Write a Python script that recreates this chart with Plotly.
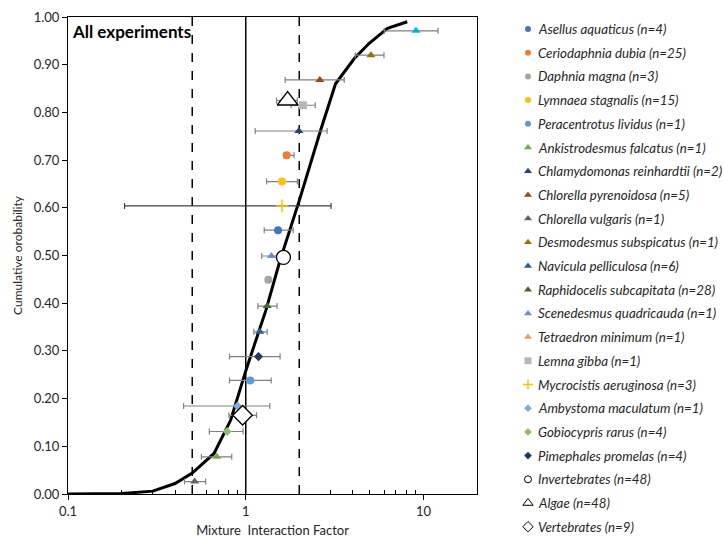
import plotly.graph_objects as go

# ---------------- data ----------------
species = [
    "Asellus aquaticus (n=4)", "Ceriodaphnia dubia (n=25)", "Daphnia magna (n=3)",
    "Lymnaea stagnalis (n=15)", "Peracentrotus lividus (n=1)", "Ankistrodesmus falcatus (n=1)",
    "Chlamydomonas reinhardtii (n=2)", "Chlorella pyrenoidosa (n=5)", "Chlorella vulgaris (n=1)",
    "Desmodesmus subspicatus (n=1)", "Navicula pelliculosa (n=6)", "Raphidocelis subcapitata (n=28)",
    "Scenedesmus quadricauda (n=1)", "Tetraedron minimum (n=1)", "Lemna gibba (n=1)",
    "Mycrocistis aeruginosa (n=3)", "Ambystoma maculatum (n=1)", "Gobiocypris rarus (n=4)",
    "Pimephales promelas (n=4)", "Invertebrates (n=48)", "Algae (n=48)", "Vertebrates (n=9)",
]
# mean MIF per species (None = no point drawn)
x_vals = [1.52, 1.70, 1.34, 1.60, 1.06, 0.687, 1.99, 2.61, 0.516, 5.06, 1.20, 1.32,
          1.395, None, 2.10, 1.60, 0.90, 0.785, 1.18, 1.63, 1.72, 0.96]
y_vals = [0.553, 0.710, 0.449, 0.655, 0.238, 0.078, 0.761, 0.868, 0.026, 0.920, 0.340, 0.394,
          0.499, None, 0.815, 0.604, 0.1845, 0.131, 0.288, 0.496, 0.825, 0.165]
x_low = [1.27, 1.64, 1.32, 1.31, 0.81, 0.563, 1.13, 1.665, 0.452, 4.13, 1.11, 1.17,
         1.23, None, 1.80, 0.208, 0.447, 0.624, 0.81, 1.63, 1.49, 0.805]
x_high = [1.85, 1.87, 1.37, 1.95, 1.39, 0.834, 2.87, 3.58, 0.595, 5.99, 1.32, 1.50,
          1.58, None, 2.46, 3.02, 1.365, 0.966, 1.56, 1.63, 1.95, 1.15]

# unlabelled series (cyan triangle at top)
extra_x = [9.07]
extra_y = [0.971]
extra_low = [6.01]
extra_high = [12.07]

# fitted cumulative distribution
curve_x = [0.1, 0.2, 0.3, 0.4, 0.5, 0.663, 0.823, 1.0, 1.3, 1.56, 2.0, 2.64, 3.2, 4.08, 4.95, 6.27, 8.1]
curve_y = [0.0, 0.001, 0.006, 0.022, 0.044, 0.085, 0.155, 0.258, 0.386, 0.49, 0.615, 0.763,
           0.86, 0.913, 0.945, 0.976, 0.99]

ref_lines = [0.5, 1, 2]
ref_dash = ["dash", "solid", "dash"]

y_ticks = [0.0, 0.1, 0.2, 0.3, 0.4, 0.5, 0.6, 0.7, 0.8, 0.9, 1.0]
x_ticks = [0.1, 1, 10]
x_tick_text = ["0.1", "1", "10"]
x_minor_ticks = [0.2, 0.3, 0.4, 0.5, 0.6, 0.7, 0.8, 0.9, 2, 3, 4, 5, 6, 7, 8, 9]

# ---------------- styles ----------------
symbols = ["circle", "circle", "circle", "circle", "circle", "triangle-up", "triangle-up",
           "triangle-up", "triangle-up", "triangle-up", "triangle-up", "triangle-up",
           "triangle-up", "triangle-up", "square", "cross-thin", "diamond", "diamond", "diamond",
           "circle-open", "triangle-up-open", "diamond-open"]
colors = ["#4472C4", "#ED7D31", "#A5A5A5", "#FFC000", "#5B9BD5", "#70AD47", "#264478",
          "#9E480E", "#636363", "#997300", "#255E91", "#43682B", "#698ED0", "#F1975A",
          "#B7B7B7", "#FFC000", "#7CAFDD", "#8CC168", "#1F3864", "black", "black", "black"]
sizes = [8, 8, 8, 8, 8, 8, 8, 8, 8, 8, 8, 8, 8, 8, 8, 9, 7, 7, 7, 14, 18, 15]
legend_sizes = [6, 6, 6, 6, 6, 7, 7, 7, 7, 7, 7, 7, 7, 7, 7, 7, 6, 6, 6, 7, 9, 8]
err_colors = ["#808080"] * len(species)
err_colors[15] = "#404040"

FONT = "Lato, Calibri, 'Liberation Sans', sans-serif"

W, H = 724, 538
plot_l, plot_r, plot_t, plot_b = 68, 477, 17, 494      # plot box in figure px
leg_mark_x, leg_text_x = 528, 536                       # legend columns in figure px
leg_y0, leg_dy = 29, 23.7

fig = go.Figure()


def marker_style(i, size, lw=1.3):
    sym = symbols[i]
    if sym.endswith("open"):
        return dict(symbol=sym.replace("-open", ""), size=size, color="white",
                    line=dict(color="black", width=lw))
    if sym == "cross-thin":
        return dict(symbol=sym, size=size, color=colors[i], line=dict(color=colors[i], width=1.5))
    return dict(symbol=sym, size=size, color=colors[i])


fig.add_trace(go.Scatter(x=curve_x, y=curve_y, mode="lines",
                         line=dict(color="black", width=3), showlegend=False,
                         hoverinfo="skip"))

fig.add_trace(go.Scatter(
    x=extra_x, y=extra_y, mode="markers", showlegend=False,
    marker=dict(symbol="triangle-up", color="#00B0F0", size=8),
    error_x=dict(type="data", symmetric=False,
                 array=[h - x for h, x in zip(extra_high, extra_x)],
                 arrayminus=[x - l for l, x in zip(extra_low, extra_x)],
                 color="#808080", thickness=1.2, width=3)))

for i, name in enumerate(species):
    if x_vals[i] is None:
        continue
    fig.add_trace(go.Scatter(
        x=[x_vals[i]], y=[y_vals[i]], mode="markers", name=name, showlegend=False,
        marker=marker_style(i, sizes[i]),
        error_x=dict(type="data", symmetric=False, array=[x_high[i] - x_vals[i]],
                     arrayminus=[x_vals[i] - x_low[i]],
                     color=err_colors[i], thickness=1.2, width=3,
                     visible=(i != 19))))

# legend drawn on an overlay axis whose units are figure pixels
for i, name in enumerate(species):
    yy = leg_y0 + i * leg_dy
    fig.add_trace(go.Scatter(x=[leg_mark_x], y=[yy], mode="markers", xaxis="x2", yaxis="y2",
                             showlegend=False, hoverinfo="skip",
                             marker=marker_style(i, legend_sizes[i], lw=1)))
    fig.add_annotation(xref="x2", yref="y2", x=leg_text_x, y=yy, xanchor="left",
                       yanchor="middle", text="<i>" + name + "</i>", showarrow=False,
                       font=dict(family=FONT, size=13.3, color="#262626"))

for xv, d in zip(ref_lines, ref_dash):
    fig.add_shape(type="line", xref="x", yref="y domain", x0=xv, x1=xv, y0=0, y1=1,
                  line=dict(color="black", width=1.5, dash=d), layer="below")

fig.add_annotation(xref="x domain", yref="y domain", x=0.006, y=0.97, xanchor="left",
                   yanchor="middle", text="<b>All experiments</b>", showarrow=False,
                   font=dict(family=FONT, size=17, color="black"))

fig.update_layout(
    width=W, height=H,
    margin=dict(l=0, r=0, t=0, b=0),
    plot_bgcolor="rgba(0,0,0,0)", paper_bgcolor="white",
    font=dict(family=FONT, size=13, color="#262626"),
    showlegend=False,
    xaxis=dict(type="log", range=[-1, 1.301], tickvals=x_ticks, ticktext=x_tick_text,
               domain=[plot_l / W, plot_r / W], automargin=False,
               showgrid=False, zeroline=False, showline=True, linecolor="black",
               linewidth=1, mirror=True, ticks="outside", ticklen=5, tickcolor="black",
               minor=dict(tickvals=x_minor_ticks, ticks="inside", ticklen=4,
                          tickcolor="black", showgrid=False),
               title=dict(text="Mixture  Interaction Factor", standoff=22,
                          font=dict(family=FONT, size=13, color="#262626"))),
    yaxis=dict(range=[0, 1], tickvals=y_ticks, tickformat=".2f", showgrid=False,
               domain=[1 - plot_b / H, 1 - plot_t / H], automargin=False,
               zeroline=False, showline=True, linecolor="black", linewidth=1, mirror=True,
               ticks="outside", ticklen=5, tickcolor="black",
               title=dict(text="Cumulative orobability", standoff=8,
                          font=dict(family=FONT, size=12, color="#262626"))),
    xaxis2=dict(domain=[0.70, 1.0], range=[0.70 * W, W], visible=False, fixedrange=True),
    yaxis2=dict(domain=[0, 1], range=[H, 0], visible=False, fixedrange=True,
                anchor="x2"),
)

# the page's default 8px body margin would shift and crop the 724x538 figure
fig.write_html("out.html", config={"displayModeBar": False},
               post_script="document.body.style.margin='0';"
                           "document.body.style.overflow='hidden';")
